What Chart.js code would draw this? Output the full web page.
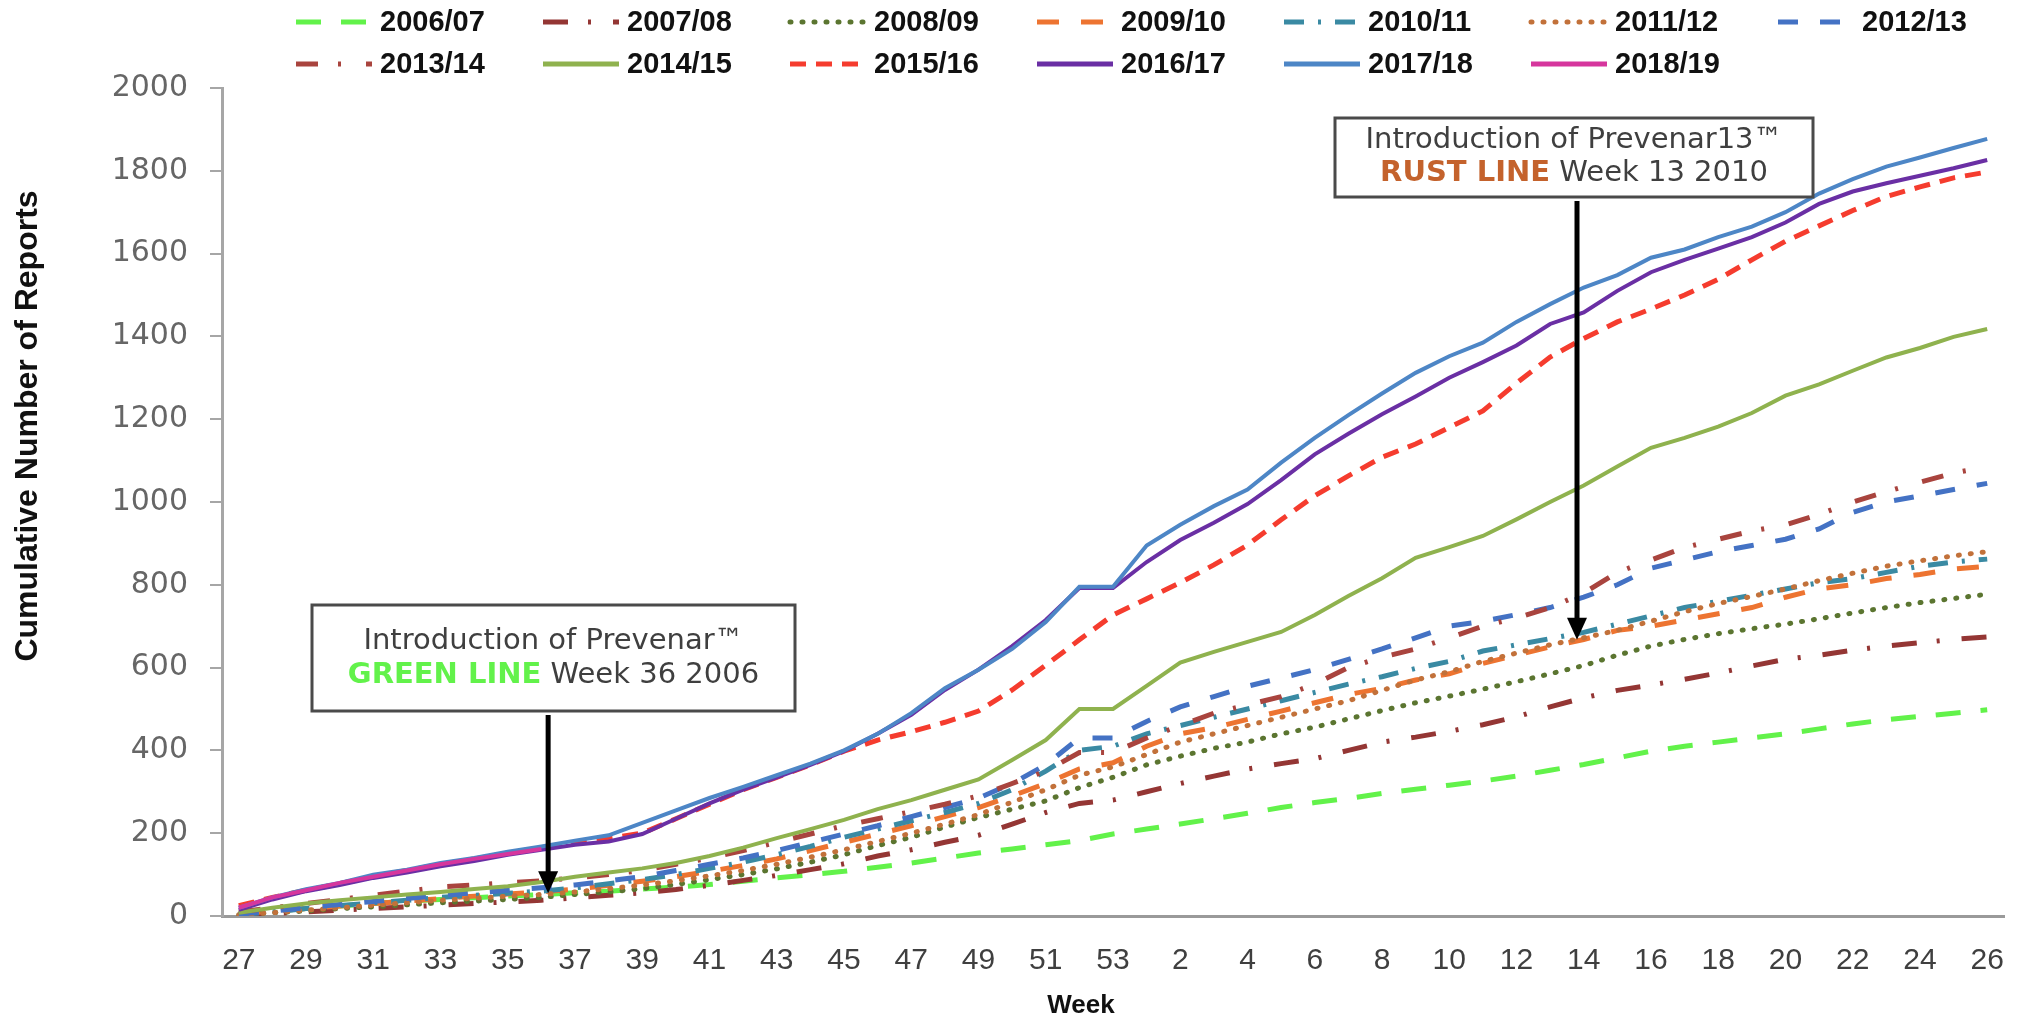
<!DOCTYPE html>
<html lang="en">
<head>
    <meta charset="UTF-8">
    <title>Cumulative Number of Reports by Week</title>
    <script src="https://cdn.jsdelivr.net/npm/chart.js@4.4.0/dist/chart.umd.min.js"></script>
    <style>
        body {
            margin: 0;
            padding: 0;
            background: #ffffff;
        }
        #wrap {
            width: 2023px;
            height: 1023px;
        }
    </style>
</head>
<body>
    <div id="wrap">
        <canvas id="reportsChart" width="2023" height="1023"></canvas>
    </div>

    <script>
        // weeks of the season, week 27 through week 26 of the next year
        const weeks = ['27', '28', '29', '30', '31', '32', '33', '34', '35', '36',
                       '37', '38', '39', '40', '41', '42', '43', '44', '45', '46',
                       '47', '48', '49', '50', '51', '52', '53',
                       '1', '2', '3', '4', '5', '6', '7', '8', '9', '10',
                       '11', '12', '13', '14', '15', '16', '17', '18', '19', '20',
                       '21', '22', '23', '24', '25', '26'];

        const s0607 = [5, 12, 18, 24, 30, 36, 40, 44, 48, 52, 56, 60, 65, 70, 76, 84, 92, 100, 108, 118,
                       128, 140, 152, 162, 172, 182, 198,
                       210, 222, 235, 248, 262, 274, 284, 296, 306, 316, 326, 338, 352, 366, 382, 398, 410, 420, 430, 440,
                       452, 464, 474, 482, 490, 498];
        const s0708 = [2, 6, 10, 14, 18, 22, 26, 30, 34, 38, 44, 50, 56, 64, 74, 86, 98, 112, 126, 145,
                       160, 178, 195, 222, 250, 272, 280,
                       300, 320, 338, 355, 368, 380, 400, 420, 432, 446, 462, 481, 505, 527, 545, 558, 572, 587, 604, 620,
                       630, 642, 652, 660, 668, 674];
        const s0809 = [3, 8, 12, 18, 22, 27, 32, 36, 40, 45, 52, 58, 66, 76, 88, 100, 114, 130, 148, 170,
                       190, 215, 238, 258, 278, 310, 335,
                       365, 386, 405, 420, 440, 456, 476, 496, 515, 531, 548, 566, 585, 605, 630, 652, 668, 682, 694, 705,
                       718, 732, 745, 757, 767, 777];
        const s0910 = [5, 12, 18, 24, 30, 36, 42, 48, 53, 58, 65, 74, 84, 95, 108, 122, 138, 158, 178, 198,
                       218, 240, 262, 290, 320, 355, 370,
                       410, 440, 455, 475, 495, 515, 535, 550, 570, 585, 610, 630, 650, 668, 690, 700, 715, 730, 745, 770,
                       790, 800, 815, 825, 838, 845];
        const s1011 = [3, 10, 18, 25, 32, 38, 45, 50, 55, 60, 68, 78, 88, 100, 115, 130, 148, 168, 190, 210,
                       230, 250, 272, 305, 350, 400, 410,
                       440, 460, 480, 500, 520, 540, 560, 578, 598, 615, 640, 655, 670, 685, 705, 725, 745, 760, 775, 790,
                       805, 815, 830, 845, 855, 862];
        const s1112 = [3, 8, 14, 20, 26, 32, 38, 43, 48, 52, 58, 66, 75, 85, 97, 110, 125, 142, 160, 180,
                       200, 222, 245, 275, 305, 340, 360,
                       390, 420, 440, 460, 480, 500, 520, 545, 570, 590, 615, 635, 655, 672, 690, 712, 735, 755, 772, 790,
                       810, 828, 845, 858, 870, 880];
        const s1213 = [5, 12, 20, 28, 35, 42, 50, 56, 62, 68, 75, 85, 95, 110, 125, 140, 158, 178, 198, 218,
                       240, 262, 285, 320, 365, 430, 430,
                       470, 505, 530, 555, 575, 595, 620, 645, 672, 700, 712, 728, 745, 770, 800, 840, 860, 880, 895, 910,
                       935, 975, 1000, 1015, 1030, 1045];
        const s1314 = [10, 20, 30, 40, 50, 60, 70, 75, 80, 85, 92, 100, 110, 125, 140, 158, 178, 198, 218, 235,
                       252, 270, 290, 320, 350, 395, 395,
                       430, 460, 490, 510, 530, 560, 600, 625, 645, 672, 700, 720, 745, 780, 830, 860, 890, 910, 930, 945,
                       970, 1000, 1025, 1048, 1070, 1085];
        const s1415 = [8, 20, 30, 38, 45, 52, 58, 65, 72, 82, 95, 105, 115, 128, 145, 165, 188, 210, 232, 258,
                       280, 305, 330, 377, 425, 500, 500,
                       556, 612, 638, 662, 686, 727, 773, 816, 865, 891, 918, 958, 1000, 1040, 1086, 1131, 1155, 1182, 1215, 1257,
                       1284, 1317, 1349, 1372, 1399, 1418];
        const s1516 = [25, 45, 62, 78, 95, 110, 125, 138, 152, 165, 178, 188, 200, 235, 270, 305, 335, 365, 398, 425,
                       445, 468, 495, 546, 606, 667, 727,
                       766, 805, 848, 896, 957, 1015, 1063, 1108, 1140, 1180, 1220, 1287, 1350, 1395, 1435, 1466, 1500, 1538, 1585, 1630,
                       1667, 1704, 1738, 1761, 1783, 1797];
        const s1617 = [15, 40, 60, 75, 92, 105, 120, 133, 148, 160, 172, 180, 198, 235, 272, 305, 335, 365, 398, 440,
                       486, 546, 595, 652, 715, 792, 792,
                       855, 908, 950, 995, 1053, 1115, 1165, 1212, 1255, 1300, 1338, 1378, 1430, 1458, 1510, 1555, 1585, 1612, 1640, 1675,
                       1720, 1750, 1770, 1788, 1806, 1826];
        const s1718 = [20, 45, 65, 80, 100, 112, 128, 140, 155, 168, 182, 195, 225, 255, 285, 312, 340, 368, 400, 440,
                       490, 550, 595, 645, 710, 795, 795,
                       895, 945, 990, 1030, 1095, 1155, 1210, 1262, 1312, 1352, 1385, 1435, 1478, 1518, 1548, 1590, 1610, 1640, 1665, 1700,
                       1745, 1780, 1810, 1832, 1855, 1877];
        const s1819 = [20, 45, 62, 80, 95, 110, 125, 138, 150, 162];

        const yTicks = [0, 200, 400, 600, 800, 1000, 1200, 1400, 1600, 1800, 2000];

        const seasons = ['2006/07', '2007/08', '2008/09', '2009/10', '2010/11', '2011/12', '2012/13',
                         '2013/14', '2014/15', '2015/16', '2016/17', '2017/18', '2018/19'];
        const seriesData = [s0607, s0708, s0809, s0910, s1011, s1112, s1213,
                            s1314, s1415, s1516, s1617, s1718, s1819];
        const colors = ['#62f24a', '#943634', '#5b7530', '#ed7431', '#3a8aa3', '#c2713a', '#4472c4',
                        '#a9443e', '#8fb24e', '#f53c2e', '#6a2fa4', '#4d86c6', '#d6369d'];
        const dashes = [[25, 20], [25, 20, 3, 22], [1, 11], [22, 22], [20, 14, 3, 14], [1, 11], [20, 22],
                        [22, 20, 3, 25], [], [16, 10], [], [], []];

        // notes pointing at the vaccine introductions (pos = category position of the arrow)
        const notes = [
            {pos: 9.2, tip: 55, box: [312, 605, 795, 711], line1: 'Introduction of Prevenar\u2122',
             tag: 'GREEN LINE', tagColor: '#62f24a', rest: ' Week 36 2006', y1: 641, y2: 675},
            {pos: 39.8, tip: 667, box: [1335, 118, 1813, 197], line1: 'Introduction of Prevenar13\u2122',
             tag: 'RUST LINE', tagColor: '#c4622c', rest: ' Week 13 2010', y1: 140, y2: 173}
        ];

        const overlay = {
            id: 'overlay',
            afterDraw(chart) {
                const ctx = chart.ctx;
                const xs = chart.scales.x;
                const ys = chart.scales.y;
                ctx.save();

                // legend, 7 per row
                chart.data.datasets.forEach((ds, i) => {
                    const lx = 296 + (i % 7) * 247;
                    const ly = 22 + Math.floor(i / 7) * 42;
                    ctx.beginPath();
                    ctx.setLineDash(ds.borderDash);
                    ctx.lineCap = ds.borderCapStyle;
                    ctx.strokeStyle = ds.borderColor;
                    ctx.lineWidth = 5;
                    ctx.moveTo(lx, ly);
                    ctx.lineTo(lx + 76, ly);
                    ctx.stroke();
                    ctx.setLineDash([]);
                    ctx.fillStyle = '#111111';
                    ctx.font = 'bold 29px "Liberation Sans"';
                    ctx.textAlign = 'left';
                    ctx.textBaseline = 'middle';
                    ctx.fillText(ds.label, lx + 84, ly + 1);
                });

                // axis titles
                ctx.fillStyle = '#111111';
                ctx.textAlign = 'center';
                ctx.textBaseline = 'middle';
                ctx.font = 'bold 26px "Liberation Sans"';
                ctx.fillText('Week', 1081, 1006);
                ctx.save();
                ctx.translate(28, 426);
                ctx.rotate(-Math.PI / 2);
                ctx.font = 'bold 32px "Liberation Sans"';
                ctx.fillText('Cumulative Number of Reports', 0, 0);
                ctx.restore();

                // annotation boxes and arrows
                notes.forEach(n => {
                    const [bx0, by0, bx1, by1] = n.box;
                    ctx.fillStyle = '#ffffff';
                    ctx.fillRect(bx0, by0, bx1 - bx0, by1 - by0);
                    ctx.strokeStyle = '#4a4a4a';
                    ctx.lineWidth = 3;
                    ctx.strokeRect(bx0, by0, bx1 - bx0, by1 - by0);

                    const cx = (bx0 + bx1) / 2;
                    ctx.textBaseline = 'middle';
                    ctx.textAlign = 'center';
                    ctx.fillStyle = '#3f3f3f';
                    ctx.font = '29px "DejaVu Sans"';
                    ctx.fillText(n.line1, cx, n.y1);

                    ctx.font = 'bold 29px "DejaVu Sans"';
                    const wTag = ctx.measureText(n.tag).width;
                    ctx.font = '29px "DejaVu Sans"';
                    const wRest = ctx.measureText(n.rest).width;
                    const sx = cx - (wTag + wRest) / 2;
                    ctx.textAlign = 'left';
                    ctx.font = 'bold 29px "DejaVu Sans"';
                    ctx.fillStyle = n.tagColor;
                    ctx.fillText(n.tag, sx, n.y2);
                    ctx.font = '29px "DejaVu Sans"';
                    ctx.fillStyle = '#3f3f3f';
                    ctx.fillText(n.rest, sx + wTag, n.y2);

                    const ax = xs.getPixelForValue(n.pos);
                    const tipY = ys.getPixelForValue(n.tip);
                    ctx.strokeStyle = '#000000';
                    ctx.lineWidth = 5;
                    ctx.beginPath();
                    ctx.moveTo(ax, by1 + 4);
                    ctx.lineTo(ax, tipY - 18);
                    ctx.stroke();
                    ctx.fillStyle = '#000000';
                    ctx.beginPath();
                    ctx.moveTo(ax - 10, tipY - 22);
                    ctx.lineTo(ax + 10, tipY - 22);
                    ctx.lineTo(ax, tipY);
                    ctx.closePath();
                    ctx.fill();
                });
                ctx.restore();
            }
        };

        const n = seasons.length;
        new Chart(document.getElementById('reportsChart'), {
            type: 'line',
            data: {
                labels: weeks,
                datasets: seasons.map((s, i) => ({
                    label: s,
                    data: seriesData[i],
                    borderColor: colors[i],
                    backgroundColor: colors[i],
                    borderDash: dashes[i],
                    borderCapStyle: dashes[i].length && dashes[i][0] < 2 ? 'round' : 'butt',
                    borderWidth: dashes[i].length ? 5 : 4,
                    pointRadius: 0,
                    tension: 0,
                    fill: false,
                    order: n - i
                }))
            },
            options: {
                responsive: false,
                animation: false,
                devicePixelRatio: 1,
                layout: {
                    padding: {top: 88, right: 12, left: 0, bottom: 0}
                },
                plugins: {
                    legend: {display: false},
                    tooltip: {enabled: false}
                },
                scales: {
                    x: {
                        type: 'category',
                        offset: true,
                        afterFit: s => { s.height = 107; },
                        grid: {display: false},
                        border: {display: true, color: '#9a9a9a', width: 3},
                        ticks: {
                            autoSkip: false,
                            maxRotation: 0,
                            padding: 19,
                            color: '#3f3f3f',
                            font: {family: 'Liberation Sans', size: 30},
                            callback: (v, i) => (i % 2 === 0 ? weeks[i] : '')
                        },
                        title: {display: false}
                    },
                    y: {
                        min: 0,
                        max: 2000,
                        afterFit: s => { s.width = 222; },
                        afterBuildTicks: s => { s.ticks = yTicks.map(v => ({value: v})); },
                        grid: {
                            drawOnChartArea: false,
                            drawTicks: true,
                            tickLength: 12,
                            color: '#a6a6a6',
                            lineWidth: 2
                        },
                        border: {display: true, color: '#a6a6a6', width: 3},
                        ticks: {
                            padding: 22,
                            color: '#666666',
                            font: {family: 'DejaVu Sans', size: 30},
                            callback: v => String(v)
                        }
                    }
                }
            },
            plugins: [overlay]
        });
    </script>
</body>
</html>
